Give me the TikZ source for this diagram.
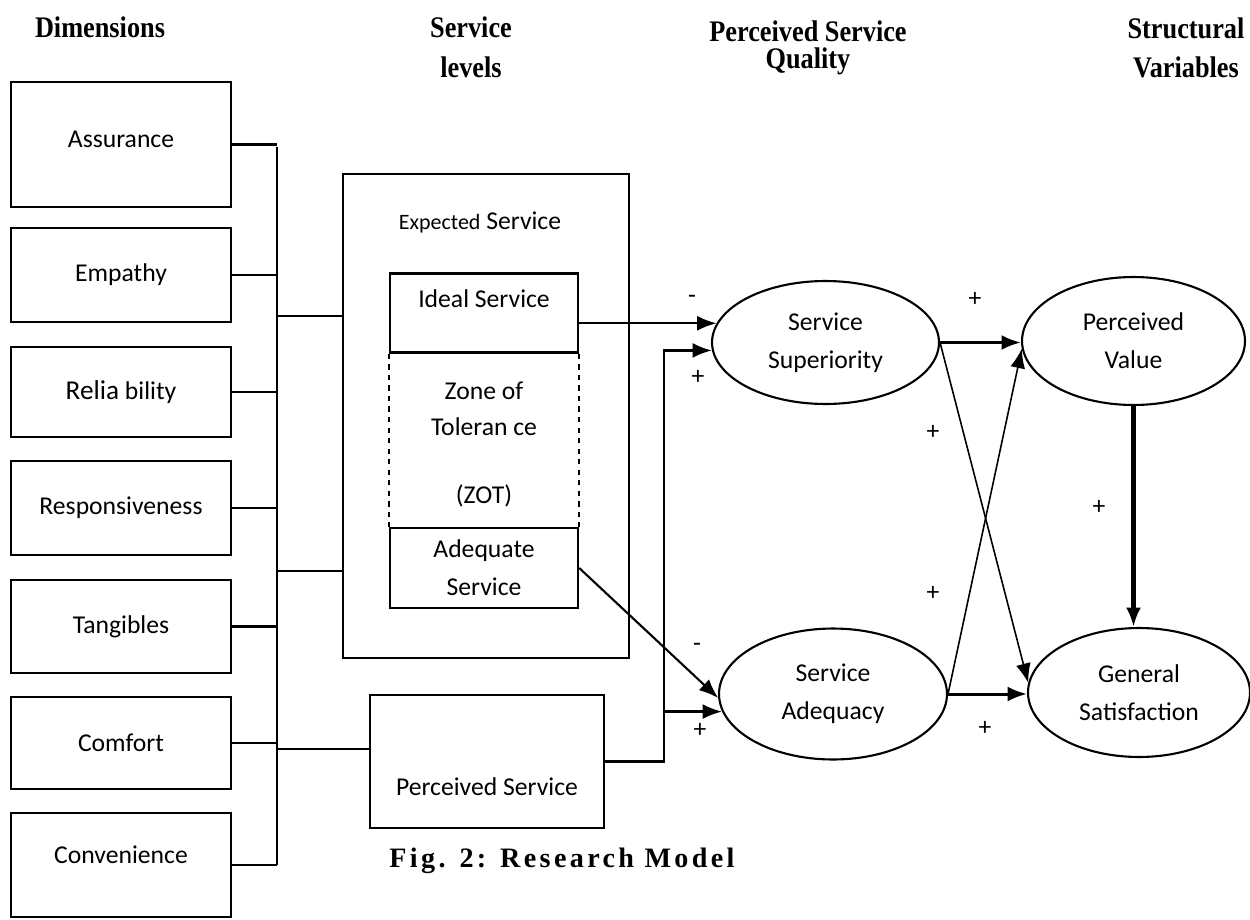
\documentclass[tikz,border=0pt]{standalone}
\usepackage{fontspec}
\setmainfont{Carlito}
\newfontfamily\headfont[FakeStretch=0.88]{Liberation Serif}
\newfontfamily\capfont[LetterSpace=12]{Liberation Serif}
\usetikzlibrary{shapes.geometric,arrows.meta}

\begin{document}
\begin{tikzpicture}[x=0.02cm,y=-0.02cm,
        every node/.style={inner sep=0pt,font=\fontsize{14.6}{21.5}\selectfont},
        dimbox/.style={draw,line width=1.4pt,minimum width=4.4cm},
        inbox/.style={draw,line width=1.4pt,minimum width=3.76cm,minimum height=1.58cm,align=center},
        factor/.style={draw,ellipse,line width=1.2pt,align=center},
        head/.style={align=center,font=\headfont\bfseries\fontsize{17}{23}\selectfont},
        sign/.style={font=\fontsize{14.6}{16}\selectfont},
        link/.style={line width=1.3pt},
        arr/.style={-{Latex[length=11pt,width=8.5pt]},line width=1.2pt},
        thinarr/.style={arr,line width=0.9pt},
        thickarr/.style={arr,line width=1.7pt}]
        \useasboundingbox (0,0) rectangle (1250,919);
        % column headings
        \node[head] (hdim) at (100,27) {Dimensions};
        \node[head] (hlev) at (471,47) {Service\\levels};
        \node[head,font=\headfont\bfseries\fontsize{17}{15.5}\selectfont] (hpsq) at (808,48) {Perceived Service\\Quality};
        \node[head,font=\headfont\bfseries\fontsize{17}{22}\selectfont] (hstr) at (1186,48) {Structural\\Variables};
        % dimensions
        \node[dimbox,minimum height=2.5cm,text depth=0.2cm] (assur) at (121,144.5) {Assurance};
        \node[dimbox,minimum height=1.88cm] (empat) at (121,275) {Empathy};
        \node[dimbox,minimum height=1.8cm] (relia) at (121,392) {{\fontsize{15.5}{18}\selectfont Relia} bility};
        \node[dimbox,minimum height=1.88cm] (respo) at (121,508) {Responsiveness};
        \node[dimbox,minimum height=1.86cm] (tangi) at (121,626.5) {Tangibles};
        \node[dimbox,minimum height=1.84cm] (comfo) at (121,743) {Comfort};
        \node[dimbox,minimum height=2.08cm,text depth=0.4cm] (conve) at (121,865) {Convenience};
        \coordinate (bus) at (277,0);
        \draw[link] (assur.east) -- (assur.east -| bus);
        \draw[link] (empat.east) -- (empat.east -| bus);
        \draw[link] (relia.east) -- (relia.east -| bus);
        \draw[link] (respo.east) -- (respo.east -| bus);
        \draw[link] (tangi.east) -- (tangi.east -| bus);
        \draw[link] (comfo.east) -- (comfo.east -| bus);
        \draw[link] (conve.east) -- (conve.east -| bus);
        \draw[link] (bus |- 0,147) -- (bus |- conve.east);
        % service levels
        \node[draw,line width=1.4pt,minimum width=5.72cm,minimum height=9.68cm] (expect) at (486,416) {};
        \node (expectt) at (480,222) {{\fontsize{12.5}{14}\selectfont Expected} Service};
        \node[inbox] (ideal) at (484,313) {};
        \node (idealt) at (484,299) {Ideal Service};
        \node[inbox,minimum height=1.6cm] (adequ) at (484,568) {Adequate\\Service};
        \node[align=center,font=\fontsize{14.6}{20.4}\selectfont] (zot) at (484,444.5) {Zone of\\Toleran ce\\[18.7pt](ZOT)};
        \draw[line width=1.4pt,dashed] (ideal.south west) -- (adequ.north west);
        \draw[line width=1.4pt,dashed] (ideal.south east) -- (adequ.north east);
        \node[draw,line width=1.4pt,minimum width=4.68cm,minimum height=2.66cm] (percv) at (487,761.5) {};
        \node (percvt) at (487,787) {Perceived Service};
        \draw[link] (bus |- 0,316) -- (expect.west |- 0,316);
        \draw[link] (bus |- 0,571) -- (expect.west |- 0,571);
        \draw[link] (bus |- 0,749) -- (percv.west |- 0,749);
        % perceived service quality
        \node[factor,minimum width=4.54cm,minimum height=2.46cm] (superi) at (825.5,342.5) {Service\\Superiority};
        \node[factor,minimum width=4.56cm,minimum height=2.62cm] (adequa) at (833,694) {Service\\Adequacy};
        % structural variables
        \node[factor,minimum width=4.46cm,minimum height=2.56cm] (pvalue) at (1133.5,341) {Perceived\\Value};
        \node[factor,minimum width=4.44cm,minimum height=2.58cm] (gsatis) at (1139,692.5) {General\\Satisfaction};
        \coordinate (split) at (664,0);
        \draw[arr] (ideal.east |- superi.170) -- (superi.170);
        \draw[arr,line width=1.4pt] (percv.east) -| (split |- superi.184) -- (superi.184);
        \draw[arr,line width=1.4pt] (split |- adequa.189) -- (adequa.189);
        \draw[arr] (adequ.east) -- (adequa.182);
        \draw[thickarr] (superi.east) -- (superi.east -| pvalue.west);
        \draw[thinarr] (superi.east) -- (gsatis.175);
        \draw[thinarr] (adequa.east) -- (pvalue.184);
        \draw[thickarr] (adequa.east) -- (adequa.east -| gsatis.west);
        \draw[arr,line width=2.8pt] (pvalue.south) -- (pvalue.south |- gsatis.north);
        % signs
        \node[sign] (s1) at (692,299) {-};
        \node[sign] (s2) at (698,377) {+};
        \node[sign] (s3) at (697,647) {-};
        \node[sign] (s4) at (700,730) {+};
        \node[sign] (s5) at (975,299) {+};
        \node[sign] (s6) at (933,432) {+};
        \node[sign] (s7) at (933,593) {+};
        \node[sign] (s8) at (985,728) {+};
        \node[sign] (s9) at (1099,507) {+};
        % caption
        \node[font=\capfont\bfseries\fontsize{16}{18}\selectfont] (capt) at (562,861) {Fig. 2: Research Model};
\end{tikzpicture}
\end{document}
